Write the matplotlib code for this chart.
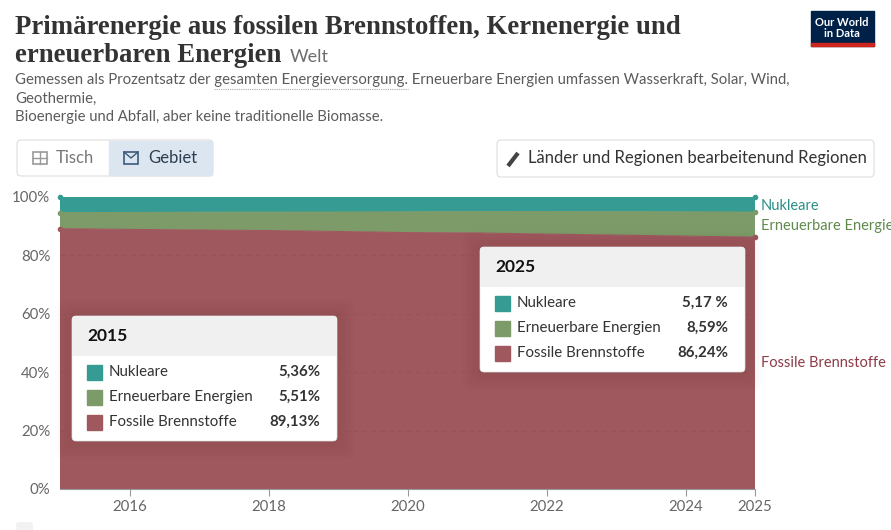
import matplotlib.pyplot as plt
import matplotlib.patches as patches
import numpy as np

plt.rcParams['font.family'] = ['Lato', 'DejaVu Sans']

years = np.arange(2015, 2026)
nuclear = [5.36, 5.30, 5.22, 5.20, 5.15, 5.10, 5.02, 5.01, 5.05, 5.10, 5.17]
renewables = [5.51, 5.80, 6.08, 6.30, 6.65, 7.10, 7.30, 7.70, 8.00, 8.30, 8.59]
fossil = [89.13, 88.90, 88.70, 88.50, 88.20, 87.80, 87.68, 87.29, 86.95, 86.60, 86.24]

series_names = ["Nukleare", "Erneuerbare Energien", "Fossile Brennstoffe"]
colors = ["#359b93", "#7d9a69", "#a0585f"]
label_colors = ["#2a8f87", "#5f8a4c", "#8e3b47"]
value_labels_2015 = ["5,36%", "5,51%", "89,13%"]
value_labels_2025 = ["5,17 %", "8,59%", "86,24%"]
xticks = [2016, 2018, 2020, 2022, 2024, 2025]
yticks = [0, 20, 40, 60, 80, 100]

W, H = 891, 530
fig = plt.figure(figsize=(W / 100, H / 100), dpi=100)

# chart area (pixel box: x 60..755, y 197..489)
ax = fig.add_axes([60 / W, 1 - 489 / H, 695 / W, 292 / H])
ax.stackplot(years, fossil, renewables, nuclear,
             colors=[colors[2], colors[1], colors[0]], linewidth=0)
tops = [np.array(fossil) + np.array(renewables) + np.array(nuclear),
        np.array(fossil) + np.array(renewables),
        np.array(fossil)]
for top, c in zip(tops, colors):
    ax.plot(years, top, color=c, lw=0.8)
    ax.plot([years[0], years[-1]], [top[0], top[-1]], 'o', color=c, ms=3, zorder=5,
            clip_on=False)
ax.set_xlim(2015, 2025)
ax.set_ylim(0, 100)
ax.set_xticks(xticks)
ax.set_yticks(yticks)
ax.set_yticklabels([f"{v}%" for v in yticks])
for v in yticks[1:-1]:
    ax.axhline(v, color="#8a4a52", lw=0.8, ls=(0, (4, 4)), zorder=3, alpha=0.35)
for s in ["top", "right", "left"]:
    ax.spines[s].set_visible(False)
ax.spines["bottom"].set_color("#999999")
ax.tick_params(axis="y", length=0, labelsize=10.8, labelcolor="#666666", pad=7)
ax.tick_params(axis="x", length=5, color="#999999", labelsize=10.8, labelcolor="#666666", pad=3)
ax.set_facecolor("none")

# end labels
ax.text(1.008, tops[0][-1] - 3, series_names[0], transform=ax.get_yaxis_transform(),
        color=label_colors[0], fontsize=10.5, va="center", clip_on=False)
ax.text(1.008, tops[1][-1] - 4.8, series_names[1], transform=ax.get_yaxis_transform(),
        color=label_colors[1], fontsize=10.5, va="center", clip_on=False)
ax.text(1.008, 43, series_names[2], transform=ax.get_yaxis_transform(),
        color=label_colors[2], fontsize=10.5, va="center", clip_on=False)

# overlay in pixel coordinates
ov = fig.add_axes([0, 0, 1, 1])
ov.set_xlim(0, W)
ov.set_ylim(H, 0)
ov.axis("off")

fig.text(15 / W, 1 - 27 / H, "Primärenergie aus fossilen Brennstoffen, Kernenergie und",
         family="Liberation Serif", weight="bold", fontsize=19.3, color="#333333", va="center")
fig.text(15 / W, 1 - 55 / H, "erneuerbaren Energien", family="Liberation Serif",
         weight="bold", fontsize=19.3, color="#333333", va="center")
fig.text(290 / W, 1 - 57 / H, "Welt", fontsize=13, color="#6e6e6e", va="center")
sub = ["Gemessen als Prozentsatz der gesamten Energieversorgung. Erneuerbare Energien umfassen Wasserkraft, Solar, Wind,",
       "Geothermie,",
       "Bioenergie und Abfall, aber keine traditionelle Biomasse."]
for i, line in enumerate(sub):
    fig.text(15 / W, 1 - (80 + 18.5 * i) / H, line, fontsize=10.7, color="#5b5b5b", va="center")
ov.plot([214, 408], [89, 89], color="#aaaaaa", lw=0.8, ls=(0, (1, 1)))

# logo
ov.add_patch(patches.Rectangle((811, 11), 63, 35, color="#002147"))
ov.add_patch(patches.Rectangle((811, 43), 63, 3, color="#ce261e"))
ov.text(842, 28, "Our World\nin Data", color="white", fontsize=8, ha="center", va="center",
        linespacing=0.95, weight="bold")

# buttons
ov.add_patch(patches.FancyBboxPatch((17, 140), 196, 36, boxstyle="round,pad=0,rounding_size=4",
                                    fc="white", ec="#dddddd", lw=0.8))
ov.add_patch(patches.Rectangle((109, 141), 103, 34, color="#dbe6f0"))
ov.add_patch(patches.Rectangle((33, 152), 14, 12, fc="none", ec="#9a9a9a", lw=1.2))
ov.plot([33, 47], [158, 158], color="#9a9a9a", lw=1)
ov.plot([40, 40], [152, 164], color="#9a9a9a", lw=1)
ov.text(56, 158, "Tisch", fontsize=12, color="#777777", va="center")
ov.add_patch(patches.Rectangle((124, 152), 14, 12, fc="none", ec="#3c5a7a", lw=1.2))
ov.plot([124, 131, 138], [152, 158, 152], color="#3c5a7a", lw=1)
ov.text(148, 158, "Gebiet", fontsize=12, color="#2d3e50", va="center")
ov.add_patch(patches.FancyBboxPatch((497, 140), 377, 37, boxstyle="round,pad=0,rounding_size=4",
                                    fc="white", ec="#dddddd", lw=0.8))
ov.plot([508, 518], [166, 153], color="#444444", lw=3, solid_capstyle="butt")
ov.text(528, 158, "Länder und Regionen bearbeitenund Regionen", fontsize=12,
        color="#333333", va="center")


def tooltip(x0, y0, year, values):
    w, h = 265, 125
    for k in range(6):
        ov.add_patch(patches.FancyBboxPatch((x0 - 2 - 3 * k, y0 - 1 - 3 * k), w + 4 + 6 * k,
                                            h + 4 + 6 * k, boxstyle="round,pad=0,rounding_size=8",
                                            fc="black", ec="none", alpha=0.012, zorder=8))
    ov.add_patch(patches.FancyBboxPatch((x0, y0), w, h, boxstyle="round,pad=0,rounding_size=4",
                                        fc="white", ec="#e4e4e4", lw=0.5, zorder=9))
    ov.add_patch(patches.FancyBboxPatch((x0, y0), w, 40, boxstyle="round,pad=0,rounding_size=4",
                                        fc="#f0f0f0", ec="none", zorder=9))
    ov.add_patch(patches.Rectangle((x0, y0 + 30), w, 10, fc="#f0f0f0", ec="none", zorder=9))
    ov.text(x0 + 15, y0 + 20, str(year), fontsize=12.5, weight="bold", color="#111111",
            va="center", zorder=10)
    for i in range(3):
        yy = y0 + 56 + 25 * i
        ov.add_patch(patches.Rectangle((x0 + 15, yy - 7), 15, 15, color=colors[i], zorder=10))
        ov.text(x0 + 37, yy, series_names[i], fontsize=10.8, color="#333333", va="center", zorder=10)
        ov.text(x0 + w - 17, yy, values[i], fontsize=10.8, weight="bold", color="#333333",
                va="center", ha="right", zorder=10)


tooltip(72, 316, years[0], value_labels_2015)
tooltip(480, 247, years[-1], value_labels_2025)

ov.add_patch(patches.FancyBboxPatch((16, 522), 17, 14, boxstyle="round,pad=0,rounding_size=3",
                                    fc="#f2f2f2", ec="none"))

fig.savefig("out.png", dpi=100)
